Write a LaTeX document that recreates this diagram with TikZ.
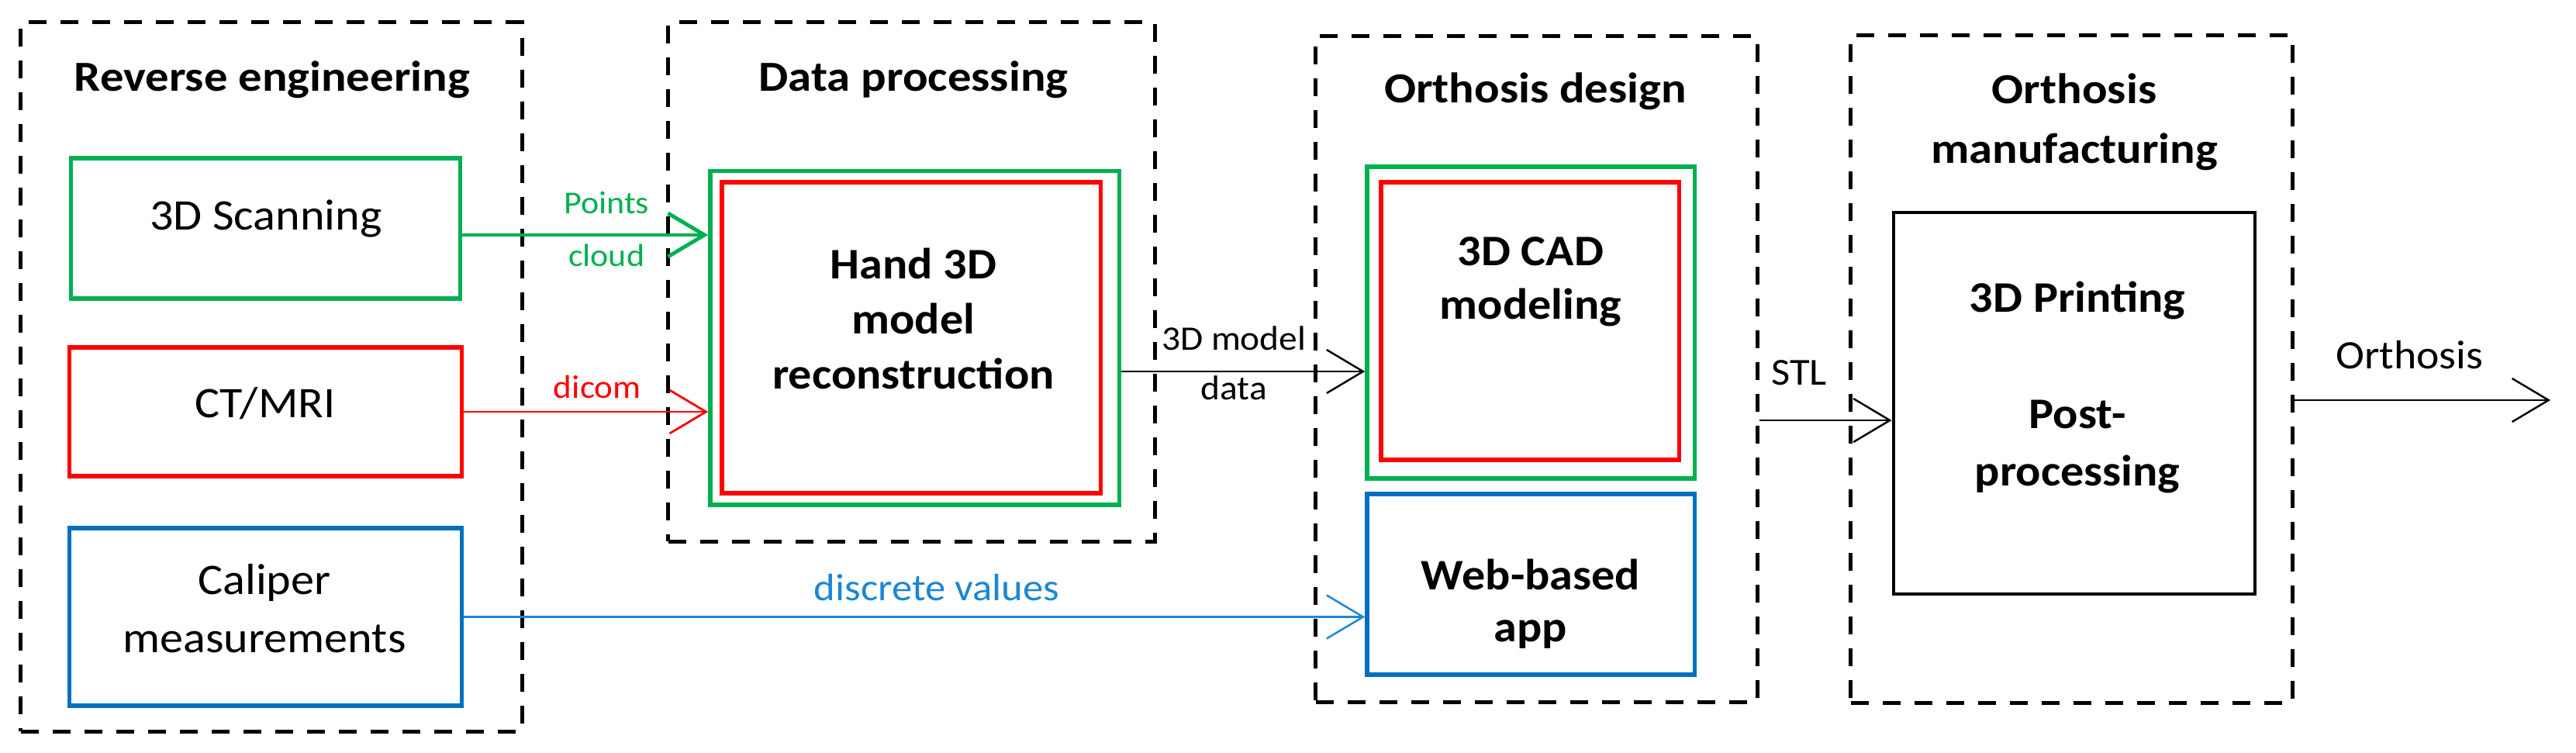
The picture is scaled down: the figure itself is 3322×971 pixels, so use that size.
\documentclass[tikz,border=0pt]{standalone}
\usepackage{fontspec}
\setmainfont{Carlito}[FakeStretch=1.07]
\newfontfamily\titlefont{Carlito}[FakeStretch=1.10]
\usetikzlibrary{positioning,arrows.meta}

\definecolor{boxgreen}{HTML}{00B050}
\definecolor{boxred}{HTML}{FF0000}
\definecolor{boxblue}{HTML}{0070C0}
\definecolor{lineblue}{HTML}{1C87D3}

\tikzset{
  stagebox/.style={draw=black,line width=1.45pt,dash pattern=on 0.23cm off 0.18cm,inner sep=0pt},
  stagetitle/.style={font=\titlefont\fontsize{15.7}{22.1}\selectfont\bfseries,align=center,inner sep=0pt},
  toolbox/.style={line width=1.5pt,inner sep=0pt},
  tooltext/.style={font=\fontsize{16}{21.5}\selectfont,align=center,inner sep=0pt},
  flow/.style={-{Straight Barb[length=0.47cm,width=0.56cm]},line width=0.7pt},
  flowlabel/.style={inner sep=0pt},
}

\begin{document}
\begin{tikzpicture}[x=0.01cm,y=-0.01cm]
  \useasboundingbox (0,0) rectangle (3322,971);

  % stages
  \node[stagebox,minimum width=6.46cm,minimum height=9.14cm] (reverse) at (350,486) {};
  \node[stagebox,minimum width=6.27cm,minimum height=6.69cm] (processing) at (1175.5,363.5) {};
  \node[stagebox,minimum width=5.69cm,minimum height=8.58cm] (design) at (1981.5,476) {};
  \node[stagebox,minimum width=5.69cm,minimum height=8.60cm] (manufacturing) at (2671.5,476) {};

  \node[stagetitle,anchor=base] (reversetitle) at (351,118) {Reverse engineering};
  \node[stagetitle,anchor=base] (processingtitle) at (1178,118) {Data processing};
  \node[stagetitle,anchor=base] (designtitle) at (1980,133) {Orthosis design};
  \node[stagetitle,anchor=base] (manufacturingtitle) at (2675,211) {Orthosis\\manufacturing};

  % tools
  \node[toolbox,draw=boxgreen,minimum width=5.01cm,minimum height=1.81cm] (scan) at (342.5,294.5) {};
  \node[toolbox,draw=boxred,minimum width=5.05cm,minimum height=1.66cm] (ct) at (342.5,531) {};
  \node[toolbox,draw=boxblue,minimum width=5.05cm,minimum height=2.29cm] (caliper) at (342.5,795.5) {};
  \node[toolbox,draw=boxgreen,minimum width=5.27cm,minimum height=4.30cm] (handouter) at (1179.5,436) {};
  \node[toolbox,draw=boxred,minimum width=4.88cm,minimum height=4.01cm] (handinner) at (1175,435.5) {};
  \node[toolbox,draw=boxgreen,minimum width=4.22cm,minimum height=4.02cm] (cadouter) at (1974,416) {};
  \node[toolbox,draw=boxred,minimum width=3.84cm,minimum height=3.58cm] (cadinner) at (1973,414) {};
  \node[toolbox,draw=boxblue,minimum width=4.22cm,minimum height=2.33cm] (webapp) at (1974,753.5) {};
  \node[toolbox,draw=black,line width=1.3pt,minimum width=4.66cm,minimum height=4.92cm] (printing) at (2675,520) {};

  \node[tooltext,anchor=base] (scantext) at (343,297) {3D Scanning};
  \node[tooltext,anchor=base] (cttext) at (342,539) {CT/MRI};
  \node[tooltext,anchor=base] (calipertext) at (341,842) {Caliper\\measurements};
  \node[tooltext,anchor=base,font=\fontsize{16}{20.3}\selectfont\bfseries] (handtext) at (1178,502) {Hand 3D\\model\\reconstruction};
  \node[tooltext,anchor=base,font=\fontsize{16}{19.9}\selectfont\bfseries] (cadtext) at (1974,412) {3D CAD\\modeling};
  \node[tooltext,anchor=base,font=\fontsize{16}{19.3}\selectfont\bfseries] (webtext) at (1974,828) {Web-based\\app};
  \node[tooltext,anchor=base,font=\fontsize{16}{21.3}\selectfont\bfseries] (printingtext) at (2679,627) {3D Printing\\[21.3pt]Post-\\processing};

  % flows
  \draw[flow,draw=boxgreen,line width=1.4pt] ([yshift=-0.085cm]scan.east) coordinate (scanout) -- (scanout -| handouter.west)
    node[flowlabel,above=0.25cm,pos=0.587,text=boxgreen,font=\fontsize{11.7}{14}\selectfont] (points) {Points}
    node[flowlabel,below=0.09cm,pos=0.587,text=boxgreen,font=\fontsize{11.7}{14}\selectfont] (cloud) {cloud};
  \draw[flow,draw=boxred,line width=0.8pt] (ct.east) -- (ct.east -| handouter.west)
    node[flowlabel,above=0.16cm,pos=0.547,text=boxred,font=\fontsize{12}{14}\selectfont] (dicom) {dicom};
  \draw[flow,draw=lineblue] (caliper.east) -- (caliper.east -| webapp.west)
    node[flowlabel,above=0.19cm,pos=0.525,text=lineblue,font=\fontsize{14}{16}\selectfont] (discrete) {discrete values};
  \draw[flow] ([yshift=-0.43cm]handouter.east) coordinate (handout) -- (handout -| cadouter.west)
    node[flowlabel,above=0.26cm,pos=0.4625,font=\fontsize{12.6}{15}\selectfont] (modeldata) {3D model}
    node[flowlabel,below=0.04cm,pos=0.4625,font=\fontsize{12.6}{15}\selectfont] (data) {data};
  \draw[flow] ([yshift=-0.66cm]design.east) coordinate (designout) -- (designout -| printing.west)
    node[flowlabel,above=0.44cm,pos=0.30,font=\fontsize{14}{16}\selectfont] (stl) {STL};
  \coordinate (orthosisend) at (3289,516);
  \draw[flow] ([yshift=-0.40cm]manufacturing.east) coordinate (manufout) -- (manufout -| orthosisend)
    node[flowlabel,above=0.39cm,pos=0.45,font=\fontsize{14.8}{18}\selectfont] (orthosis) {Orthosis};
\end{tikzpicture}
\end{document}
